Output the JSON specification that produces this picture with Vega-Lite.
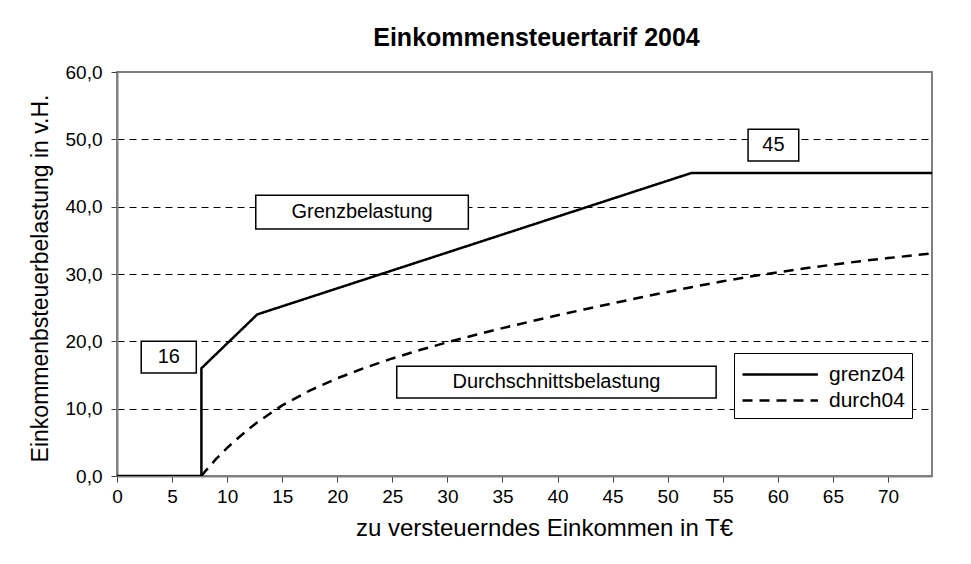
{
  "$schema": "https://vega.github.io/schema/vega-lite/v6.json",
  "autosize": {"type": "none"},
  "width": 815,
  "height": 404,
  "padding": {"left": 117, "top": 72, "right": 39, "bottom": 88},
  "background": "white",
  "config": {
    "font": "Liberation Sans",
    "view": {"stroke": "#808080", "strokeWidth": 2},
    "axis": {"labelColor": "black", "titleColor": "black", "labelFont": "Liberation Sans", "titleFont": "Liberation Sans", "titleFontWeight": "normal", "domainColor": "#808080", "domainWidth": 2, "tickColor": "#404040", "tickWidth": 1, "tickSize": 6}
  },
  "title": {"text": "Einkommensteuertarif 2004", "fontSize": 25, "fontWeight": "bold", "font": "Liberation Sans", "color": "black", "anchor": "middle", "dx": 12, "offset": 12},
  "datasets": {
    "curves": [
      {"series": "grenz04", "i": 1, "x": 0, "y": 0},
      {"series": "grenz04", "i": 2, "x": 7.664, "y": 0},
      {"series": "grenz04", "i": 3, "x": 7.664, "y": 16},
      {"series": "grenz04", "i": 4, "x": 12.739, "y": 24},
      {"series": "grenz04", "i": 5, "x": 52.152, "y": 45},
      {"series": "grenz04", "i": 6, "x": 74, "y": 45},
      {"series": "durch04", "i": 1, "x": 7.664, "y": 0},
      {"series": "durch04", "i": 2, "x": 8, "y": 0.68},
      {"series": "durch04", "i": 3, "x": 9, "y": 2.53},
      {"series": "durch04", "i": 4, "x": 10, "y": 4.17},
      {"series": "durch04", "i": 5, "x": 11, "y": 5.65},
      {"series": "durch04", "i": 6, "x": 12, "y": 7.02},
      {"series": "durch04", "i": 7, "x": 12.739, "y": 7.98},
      {"series": "durch04", "i": 8, "x": 15, "y": 10.49},
      {"series": "durch04", "i": 9, "x": 17.5, "y": 12.69},
      {"series": "durch04", "i": 10, "x": 20, "y": 14.51},
      {"series": "durch04", "i": 11, "x": 22.5, "y": 16.07},
      {"series": "durch04", "i": 12, "x": 25, "y": 17.46},
      {"series": "durch04", "i": 13, "x": 27.5, "y": 18.71},
      {"series": "durch04", "i": 14, "x": 30, "y": 19.86},
      {"series": "durch04", "i": 15, "x": 32.5, "y": 20.94},
      {"series": "durch04", "i": 16, "x": 35, "y": 21.96},
      {"series": "durch04", "i": 17, "x": 37.5, "y": 22.93},
      {"series": "durch04", "i": 18, "x": 40, "y": 23.87},
      {"series": "durch04", "i": 19, "x": 42.5, "y": 24.77},
      {"series": "durch04", "i": 20, "x": 45, "y": 25.65},
      {"series": "durch04", "i": 21, "x": 47.5, "y": 26.5},
      {"series": "durch04", "i": 22, "x": 50, "y": 27.33},
      {"series": "durch04", "i": 23, "x": 52.152, "y": 28.04},
      {"series": "durch04", "i": 24, "x": 55, "y": 28.92},
      {"series": "durch04", "i": 25, "x": 57.5, "y": 29.62},
      {"series": "durch04", "i": 26, "x": 60, "y": 30.26},
      {"series": "durch04", "i": 27, "x": 62.5, "y": 30.85},
      {"series": "durch04", "i": 28, "x": 65, "y": 31.39},
      {"series": "durch04", "i": 29, "x": 67.5, "y": 31.9},
      {"series": "durch04", "i": 30, "x": 70, "y": 32.36},
      {"series": "durch04", "i": 31, "x": 72, "y": 32.71},
      {"series": "durch04", "i": 32, "x": 74, "y": 33.05}
    ],
    "boxes": [
      {"label": "16", "x1": 2.2, "x2": 7.2, "y1": 15.3, "y2": 20.0, "cx": 4.7, "cy": 17.65},
      {"label": "45", "x1": 57.3, "x2": 61.9, "y1": 46.8, "y2": 51.5, "cx": 59.6, "cy": 49.15},
      {"label": "Grenzbelastung", "x1": 12.6, "x2": 31.9, "y1": 36.7, "y2": 41.7, "cx": 22.25, "cy": 39.2},
      {"label": "Durchschnittsbelastung", "x1": 25.4, "x2": 54.4, "y1": 11.6, "y2": 16.3, "cx": 39.9, "cy": 13.95}
    ]
  },
  "layer": [
    {
      "data": {"name": "curves"},
      "mark": {"type": "line", "color": "black", "strokeWidth": 2.5, "clip": true},
      "encoding": {
        "x": {"field": "x", "type": "quantitative", "scale": {"domain": [0, 74], "nice": false, "zero": false},
          "axis": {"values": [0,5,10,15,20,25,30,35,40,45,50,55,60,65,70], "title": "zu versteuerndes Einkommen in T€", "titleFontSize": 24, "labelFontSize": 19, "labelPadding": 5, "titlePadding": 10, "titleX": 427, "grid": false, "labelFlush": false}},
        "y": {"field": "y", "type": "quantitative", "scale": {"domain": [0, 60], "nice": false},
          "axis": {"values": [0,10,20,30,40,50,60], "title": "Einkommenbsteuerbelastung in v.H.", "titleFontSize": 23, "labelFontSize": 19, "labelPadding": 9, "titlePadding": 13, "titleY": 206,
            "labelExpr": "replace(format(datum.value, '.1f'), '.', ',')",
            "grid": true, "gridColor": "black", "gridDash": [7, 5], "gridWidth": 1,
            "gridOpacity": {"condition": {"test": "datum.value == 0 || datum.value == 60", "value": 0}, "value": 1}}},
        "strokeDash": {"field": "series", "type": "nominal",
          "scale": {"domain": ["grenz04", "durch04"], "range": [[1, 0], [10, 7]]},
          "legend": {"orient": "none", "legendX": 617, "legendY": 281, "title": null, "strokeColor": "black", "fillColor": "white", "padding": 7,
            "symbolType": "M-1,0H4.8", "symbolSize": 676, "symbolStrokeWidth": 2.5, "symbolStrokeColor": "black", "symbolFillColor": "transparent",
            "labelFontSize": 21, "labelFont": "Liberation Sans", "labelColor": "black", "rowPadding": 1, "labelOffset": 59}},
        "order": {"field": "i", "type": "quantitative"}
      }
    },
    {
      "data": {"name": "boxes"},
      "mark": {"type": "rect", "fill": "white", "stroke": "black", "strokeWidth": 1.5},
      "encoding": {
        "x": {"field": "x1", "type": "quantitative"},
        "x2": {"field": "x2"},
        "y": {"field": "y1", "type": "quantitative"},
        "y2": {"field": "y2"}
      }
    },
    {
      "data": {"name": "boxes"},
      "mark": {"type": "text", "fontSize": 20, "font": "Liberation Sans", "color": "black", "align": "center", "baseline": "middle"},
      "encoding": {
        "x": {"field": "cx", "type": "quantitative"},
        "y": {"field": "cy", "type": "quantitative"},
        "text": {"field": "label"}
      }
    }
  ]
}
